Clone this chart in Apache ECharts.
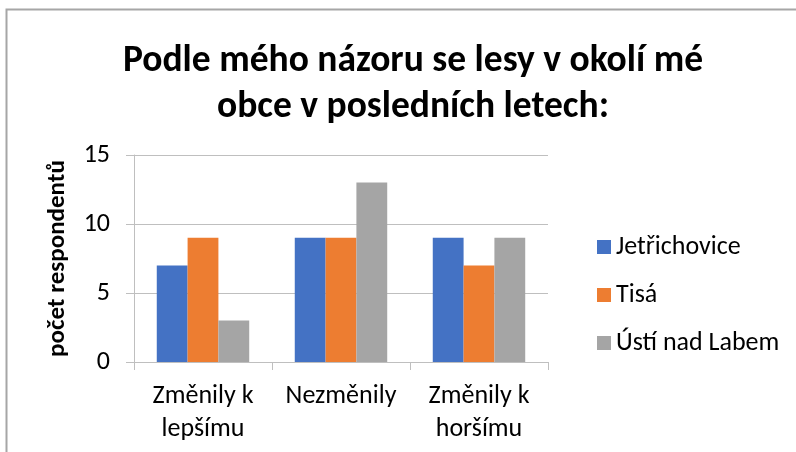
<!DOCTYPE html>
<html>
<head>
<meta charset="utf-8">
<script src="https://cdn.jsdelivr.net/npm/echarts@6/dist/echarts.min.js"></script>
<style>
  html, body { margin: 0; padding: 0; background: #fff; }
  #chart { width: 796px; height: 452px; }
</style>
</head>
<body>
<div id="chart"></div>
<script>
// kategorie a hodnoty
var categories = ['Změnily k\nlepšímu', 'Nezměnily', 'Změnily k\nhoršímu'];
var jetrichovice = [7, 9, 9];
var tisa = [9, 9, 7];
var ustiNadLabem = [3, 13, 9];
var seriesNames = ['Jetřichovice', 'Tisá', 'Ústí nad Labem'];
var colors = ['#4472C4', '#ED7D31', '#A5A5A5'];

var font = 'Carlito, Lato, "Noto Sans", sans-serif';
var chart = echarts.init(document.getElementById('chart'));

var option = {
  animation: false,
  color: colors,
  textStyle: { fontFamily: font },
  title: {
    text: 'Podle mého názoru se lesy v okolí mé\nobce v posledních letech:',
    left: 408,
    top: 34,
    textAlign: 'center',
    textStyle: { fontSize: 37.5, fontWeight: 'bold', color: '#000', lineHeight: 46, fontFamily: font }
  },
  // rámeček okolo grafu
  graphic: [{
    type: 'polyline',
    shape: { points: [[796, 9.5], [6.5, 9.5], [6.5, 452]] },
    style: { stroke: '#a6a6a6', lineWidth: 2, fill: null },
    silent: true
  }],
  legend: {
    orient: 'vertical',
    left: 592,
    top: 229,
    itemWidth: 14,
    itemHeight: 14,
    itemGap: 22,
    icon: 'rect',
    data: seriesNames,
    textStyle: { fontSize: 26, color: '#000', fontFamily: font }
  },
  grid: { left: 134, right: 248, top: 155, bottom: 90, containLabel: false },
  xAxis: {
    type: 'category',
    data: categories,
    axisLine: { lineStyle: { color: '#bfbfbf', width: 1 } },
    axisTick: { show: true, length: 8, lineStyle: { color: '#bfbfbf' } },
    axisLabel: { interval: 0, fontSize: 26, color: '#000', lineHeight: 33, margin: 18, fontFamily: font }
  },
  yAxis: {
    type: 'value',
    min: 0,
    max: 15,
    interval: 5,
    name: 'počet respondentů',
    nameLocation: 'middle',
    nameGap: 64,
    nameTextStyle: { fontSize: 25, fontWeight: 'bold', color: '#000', fontFamily: font },
    axisLine: { show: true, lineStyle: { color: '#bfbfbf' } },
    axisTick: { show: true, length: 8, lineStyle: { color: '#bfbfbf' } },
    axisLabel: { fontSize: 26, color: '#000', margin: 24, fontFamily: font },
    splitLine: { lineStyle: { color: '#bfbfbf' } }
  },
  series: [
    { name: seriesNames[0], type: 'bar', data: jetrichovice, barGap: '0%', barCategoryGap: '33%' },
    { name: seriesNames[1], type: 'bar', data: tisa, barGap: '0%', barCategoryGap: '33%' },
    { name: seriesNames[2], type: 'bar', data: ustiNadLabem, barGap: '0%', barCategoryGap: '33%' }
  ]
};

chart.setOption(option);
</script>
</body>
</html>
